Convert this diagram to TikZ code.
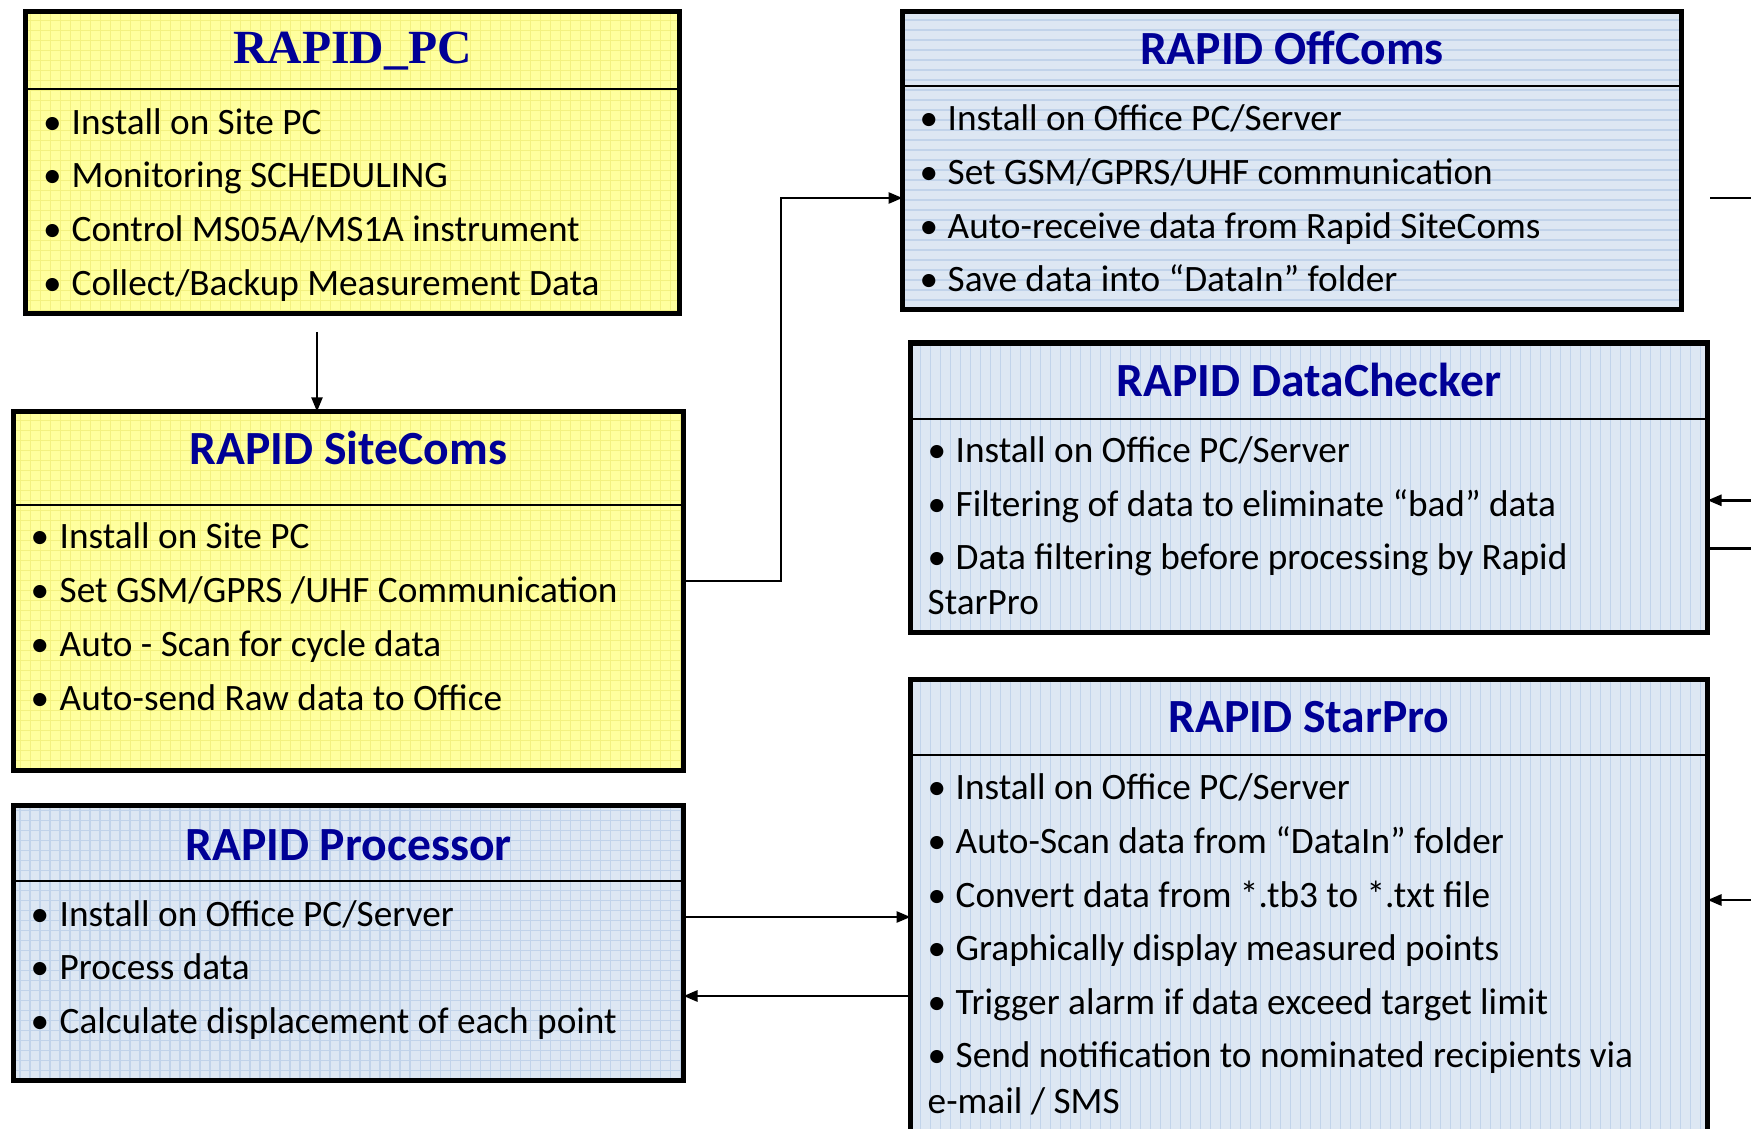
\documentclass[tikz,border=0pt]{standalone}
\usepackage{fontspec}
\setmainfont{Carlito}
\newfontfamily\serifttl{Liberation Serif}
\usetikzlibrary{arrows.meta}
\definecolor{yfill}{RGB}{255,255,158}
\definecolor{ygrid}{RGB}{243,241,128}
\definecolor{bfill}{RGB}{221,231,243}
\definecolor{bgrid}{RGB}{193,211,234}
\definecolor{titleblue}{RGB}{0,0,150}
\tikzset{
  boxY/.style={fill=yfill, draw=none, inner sep=0pt, outer sep=0pt, anchor=north west},
  boxB/.style={fill=bfill, draw=none, inner sep=0pt, outer sep=0pt, anchor=north west},
  gridY/.style={draw=ygrid, line width=0.28pt},
  gridB/.style={draw=bgrid, line width=0.3pt},
  border/.style={draw=black, line width=1.65pt},
  divline/.style={draw=black, line width=0.85pt},
  ttl/.style={anchor=base, inner sep=0pt, text=titleblue, font=\fontsize{13.55}{16}\selectfont\bfseries},
  ttlserif/.style={anchor=base, inner sep=0pt, text=titleblue, font=\fontsize{13.55}{16}\selectfont\serifttl\bfseries},
  btext/.style={anchor=base west, inner sep=0pt, font=\fontsize{10.6}{12}\selectfont},
  bdot/.style={anchor=base, inner sep=0pt, font=\fontsize{10.6}{12}\selectfont},
  conn/.style={draw=black, line width=0.75pt},
  arr/.style={conn, -{Triangle[length=0.14cm, width=0.11cm]}},
}
\begin{document}
\begin{tikzpicture}
\useasboundingbox (0,0) rectangle (17.51,-11.29);
\clip (0,0) rectangle (17.51,-11.29);

% ---------------- RAPID_PC
\node[boxY, minimum width=6.54cm, minimum height=3.02cm] (pc) at (0.255,-0.115) {};
\begin{scope}
\clip (pc.south west) rectangle (pc.north east);
\draw[gridY, step=0.1] (pc.south west) grid (pc.north east);
\end{scope}
\draw[border] (pc.south west) rectangle (pc.north east);
\coordinate (pcd) at (0,-0.89);
\draw[divline] (pc.west |- pcd) -- (pc.east |- pcd);
\node[ttlserif] (pct) at (3.525,-0.637) {RAPID\_PC};
\node[bdot] (pcb1) at (0.525,-1.343) {•};
\node[btext] (pc1) at (0.71,-1.343) {Install on Site PC};
\node[bdot] (pcb2) at (0.525,-1.879) {•};
\node[btext] (pc2) at (0.71,-1.879) {Monitoring SCHEDULING};
\node[bdot] (pcb3) at (0.525,-2.415) {•};
\node[btext] (pc3) at (0.71,-2.415) {Control MS05A/MS1A instrument};
\node[bdot] (pcb4) at (0.525,-2.951) {•};
\node[btext] (pc4) at (0.71,-2.951) {Collect/Backup Measurement Data};

% ---------------- RAPID SiteComs
\node[boxY, minimum width=6.70cm, minimum height=3.59cm] (site) at (0.135,-4.115) {};
\begin{scope}
\clip (site.south west) rectangle (site.north east);
\draw[gridY, step=0.1] (site.south west) grid (site.north east);
\end{scope}
\draw[border] (site.south west) rectangle (site.north east);
\coordinate (sited) at (0,-5.05);
\draw[divline] (site.west |- sited) -- (site.east |- sited);
\node[ttl] (sitet) at (3.485,-4.65) {RAPID SiteComs};
\node[bdot] (siteb1) at (0.40,-5.486) {•};
\node[btext] (site1) at (0.59,-5.486) {Install on Site PC};
\node[bdot] (siteb2) at (0.40,-6.022) {•};
\node[btext] (site2) at (0.59,-6.022) {Set GSM/GPRS /UHF Communication};
\node[bdot] (siteb3) at (0.40,-6.569) {•};
\node[btext] (site3) at (0.59,-6.569) {Auto - Scan for cycle data};
\node[bdot] (siteb4) at (0.40,-7.105) {•};
\node[btext] (site4) at (0.59,-7.105) {Auto-send Raw data to Office};

% ---------------- RAPID Processor
\node[boxB, minimum width=6.70cm, minimum height=2.75cm] (proc) at (0.135,-8.055) {};
\begin{scope}
\clip (proc.south west) rectangle (proc.north east);
\draw[gridB, step=0.1] (proc.south west) grid (proc.north east);
\end{scope}
\draw[border] (proc.south west) rectangle (proc.north east);
\coordinate (procd) at (0,-8.81);
\draw[divline] (proc.west |- procd) -- (proc.east |- procd);
\node[ttl] (proct) at (3.485,-8.60) {RAPID Processor};
\node[bdot] (procb1) at (0.40,-9.261) {•};
\node[btext] (proc1) at (0.59,-9.261) {Install on Office PC/Server};
\node[bdot] (procb2) at (0.40,-9.797) {•};
\node[btext] (proc2) at (0.59,-9.797) {Process data};
\node[bdot] (procb3) at (0.40,-10.333) {•};
\node[btext] (proc3) at (0.59,-10.333) {Calculate displacement of each point};

% ---------------- RAPID OffComs
\node[boxB, minimum width=7.79cm, minimum height=2.98cm] (off) at (9.025,-0.115) {};
\begin{scope}
\clip (off.south west) rectangle (off.north east);
\draw[gridB, xstep=50, ystep=0.1] (off.south west) grid (off.north east);
\end{scope}
\draw[border] (off.south west) rectangle (off.north east);
\coordinate (offd) at (0,-0.86);
\draw[divline] (off.west |- offd) -- (off.east |- offd);
\node[ttl] (offt) at (12.92,-0.645) {RAPID OffComs};
\node[bdot] (offb1) at (9.29,-1.31) {•};
\node[btext] (off1) at (9.47,-1.31) {Install on Office PC/Server};
\node[bdot] (offb2) at (9.29,-1.846) {•};
\node[btext] (off2) at (9.47,-1.846) {Set GSM/GPRS/UHF communication};
\node[bdot] (offb3) at (9.29,-2.382) {•};
\node[btext] (off3) at (9.47,-2.382) {Auto-receive data from Rapid SiteComs};
\node[bdot] (offb4) at (9.29,-2.918) {•};
\node[btext] (off4) at (9.47,-2.918) {Save data into “DataIn” folder};

% ---------------- RAPID DataChecker
\node[boxB, minimum width=7.97cm, minimum height=2.895cm] (chk) at (9.105,-3.43) {};
\begin{scope}
\clip (chk.south west) rectangle (chk.north east);
\draw[gridB, xstep=0.1, ystep=50] (chk.south west) grid (chk.north east);
\end{scope}
\draw[border] (chk.south west) rectangle (chk.north east);
\coordinate (chkd) at (0,-4.19);
\draw[divline] (chk.west |- chkd) -- (chk.east |- chkd);
\node[ttl] (chkt) at (13.09,-3.96) {RAPID DataChecker};
\node[bdot] (chkb1) at (9.37,-4.627) {•};
\node[btext] (chk1) at (9.55,-4.627) {Install on Office PC/Server};
\node[bdot] (chkb2) at (9.37,-5.163) {•};
\node[btext] (chk2) at (9.55,-5.163) {Filtering of data to eliminate “bad” data};
\node[bdot] (chkb3) at (9.37,-5.699) {•};
\node[btext] (chk3) at (9.55,-5.699) {Data filtering before processing by Rapid};
\node[btext] (chk3b) at (9.27,-6.145) {StarPro};

% ---------------- RAPID StarPro
\node[boxB, minimum width=7.97cm, minimum height=4.805cm] (star) at (9.105,-6.795) {};
\begin{scope}
\clip (star.south west) rectangle (star.north east);
\draw[gridB, xstep=0.1, ystep=50] (star.south west) grid (star.north east);
\end{scope}
\draw[border] (star.south west) rectangle (star.north east);
\coordinate (stard) at (0,-7.55);
\draw[divline] (star.west |- stard) -- (star.east |- stard);
\node[ttl] (start) at (13.09,-7.33) {RAPID StarPro};
\node[bdot] (starb1) at (9.37,-7.999) {•};
\node[btext] (star1) at (9.55,-7.999) {Install on Office PC/Server};
\node[bdot] (starb2) at (9.37,-8.535) {•};
\node[btext] (star2) at (9.55,-8.535) {Auto-Scan data from “DataIn” folder};
\node[bdot] (starb3) at (9.37,-9.071) {•};
\node[btext] (star3) at (9.55,-9.071) {Convert data from *.tb3 to *.txt file};
\node[bdot] (starb4) at (9.37,-9.607) {•};
\node[btext] (star4) at (9.55,-9.607) {Graphically display measured points};
\node[bdot] (starb5) at (9.37,-10.143) {•};
\node[btext] (star5) at (9.55,-10.143) {Trigger alarm if data exceed target limit};
\node[bdot] (starb6) at (9.37,-10.679) {•};
\node[btext] (star6) at (9.55,-10.679) {Send notification to nominated recipients via};
\node[btext] (star6b) at (9.27,-11.137) {e-mail / SMS};

% ---------------- connectors
\coordinate (ax) at (3.17,-3.32);
\draw[arr, line width=0.55pt] (ax) -- (ax |- site.north);

\coordinate (j1) at (7.81,-5.81);
\coordinate (j2) at (7.81,-1.98);
\draw[arr] (site.east |- j1) -- (j1) -- (j2) -- (off.west |- j2);

\coordinate (o1) at (17.10,-1.98);
\coordinate (o2) at (17.60,-1.98);
\draw[conn] (o1) -- (o2);

\coordinate (c1) at (17.60,-5.003);
\draw[arr] (c1) -- (chk.east |- c1);
\coordinate (c2) at (17.60,-5.483);
\draw[conn] (chk.east |- c2) -- (c2);

\coordinate (s1) at (17.60,-9.0);
\draw[arr] (s1) -- (star.east |- s1);

\coordinate (p1) at (0,-9.17);
\draw[arr] (proc.east |- p1) -- (star.west |- p1);
\coordinate (p2) at (0,-9.96);
\draw[arr] (star.west |- p2) -- (proc.east |- p2);
\end{tikzpicture}
\end{document}
